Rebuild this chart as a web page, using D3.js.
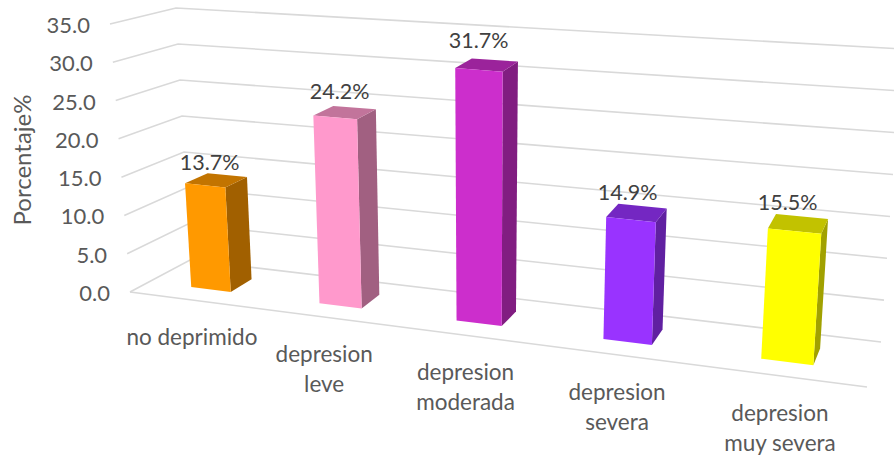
<!DOCTYPE html>
<html>
<head>
<meta charset="utf-8">
<script src="https://cdn.jsdelivr.net/npm/d3@7"></script>
<style>
  html, body { margin: 0; padding: 0; background: #fff; }
  svg { display: block; }
  text { font-family: Lato, "Open Sans", sans-serif; }
</style>
</head>
<body>
<div id="chart"></div>
<script>
var categories = ["no deprimido", "depresion leve", "depresion moderada", "depresion severa", "depresion muy severa"];
var percent_values = [13.7, 24.2, 31.7, 14.9, 15.5];
var bar_colors = ["#FF9900", "#FF99CC", "#CC2ECC", "#9933FF", "#FFFF00"];
var tick_values = [0, 5, 10, 15, 20, 25, 30, 35];
var category_lines = [["no deprimido"], ["depresion", "leve"], ["depresion", "moderada"], ["depresion", "severa"], ["depresion", "muy severa"]];

var width = 894, height = 456;

// corners of the chart box on screen: front/back, left/right, floor/top
var box = {
    flb: [130, 292], frb: [867, 387], blb: [190, 260], brb: [881, 342],
    flt: [110, 24],  frt: [888, 84],  blt: [176, 8],   brt: [902, 49]
};
var persp = 1.19;       // how much the far left of the box is squeezed
var bar_depth = [0.32, 0.70];
var label_lift = 1.05;  // value labels float a little more on taller bars

var x_scale = d3.scaleBand().domain(categories).range([0, 1]).paddingInner(0.685).paddingOuter(0.3425);
var y_scale = d3.scaleLinear().domain([0, 35]).range([0, 1]);

function mix(a, b, t) {
    return [a[0] + (b[0] - a[0]) * t, a[1] + (b[1] - a[1]) * t];
}

// u along the front, v up, w into the chart, all 0..1
function project(u, v, w) {
    var f = u / (u + persp * (1 - u));
    var bottom = mix(mix(box.flb, box.frb, f), mix(box.blb, box.brb, f), w);
    var top = mix(mix(box.flt, box.frt, f), mix(box.blt, box.brt, f), w);
    return mix(bottom, top, v);
}

function shade(color, k) {
    var c = d3.rgb(color);
    return d3.rgb(c.r * k, c.g * k, c.b * k).formatHex();
}

var line = d3.line();
var svg = d3.select("#chart").append("svg").attr("width", width).attr("height", height);

// walls: each gridline runs along the left wall, then along the back wall
svg.selectAll(".grid")
    .data(tick_values)
    .enter()
    .append("path")
    .attr("class", "grid")
    .attr("fill", "none")
    .attr("stroke", "#d9d9d9")
    .attr("stroke-width", 1.6)
    .attr("d", (d) => line([project(0, y_scale(d), 0), project(0, y_scale(d), 1), project(1, y_scale(d), 1)]));

svg.append("path")
    .attr("fill", "none")
    .attr("stroke", "#d9d9d9")
    .attr("stroke-width", 1.6)
    .attr("d", line([project(0, 0, 0), project(1, 0, 0)]));

svg.selectAll(".tick-label")
    .data(tick_values)
    .enter()
    .append("text")
    .attr("class", "tick-label")
    .attr("x", (d) => project(0, y_scale(d), 0)[0] - 20)
    .attr("y", (d) => project(0, y_scale(d), 0)[1] + 9)
    .attr("text-anchor", "end")
    .attr("font-size", 22)
    .attr("fill", "#595959")
    .text((d) => d.toFixed(1));

svg.append("text")
    .attr("transform", "translate(31,160) rotate(-90)")
    .attr("text-anchor", "middle")
    .attr("font-size", 24)
    .attr("fill", "#595959")
    .text("Porcentaje%");

// one group per bar, faces stacked side, top, front
var bars = svg.selectAll(".bar")
    .data(categories)
    .enter()
    .append("g")
    .attr("class", "bar");

function barCorners(name, i) {
    var u0 = x_scale(name), u1 = u0 + x_scale.bandwidth(), v = y_scale(percent_values[i]);
    var w0 = bar_depth[0], w1 = bar_depth[1];
    return {
        front: [project(u0, 0, w0), project(u1, 0, w0), project(u1, v, w0), project(u0, v, w0)],
        side: [project(u1, 0, w0), project(u1, 0, w1), project(u1, v, w1), project(u1, v, w0)],
        top: [project(u0, v, w0), project(u1, v, w0), project(u1, v, w1), project(u0, v, w1)]
    };
}

bars.append("path")
    .attr("fill", (d, i) => shade(bar_colors[i], 0.63))
    .attr("d", (d, i) => line(barCorners(d, i).side) + "Z");
bars.append("path")
    .attr("fill", (d, i) => shade(bar_colors[i], 0.76))
    .attr("d", (d, i) => line(barCorners(d, i).top) + "Z");
bars.append("path")
    .attr("fill", (d, i) => bar_colors[i])
    .attr("d", (d, i) => line(barCorners(d, i).front) + "Z");

// value labels sit just above the top face
svg.selectAll(".value-label")
    .data(categories)
    .enter()
    .append("text")
    .attr("class", "value-label")
    .attr("x", (d) => project(x_scale(d) + x_scale.bandwidth() / 2, 0, 0.27)[0] + 1.5)
    .attr("y", (d, i) => project(x_scale(d), y_scale(percent_values[i]) * label_lift, bar_depth[1])[1] + 2)
    .attr("text-anchor", "middle")
    .attr("font-size", 21.5)
    .attr("fill", "#404040")
    .text((d, i) => percent_values[i].toFixed(1) + "%");

var cat_labels = svg.selectAll(".cat-label")
    .data(categories)
    .enter()
    .append("text")
    .attr("class", "cat-label")
    .attr("text-anchor", "middle")
    .attr("font-size", 22.5)
    .attr("fill", "#595959");

cat_labels.selectAll("tspan")
    .data((d, i) => category_lines[i].map((t, n) => ({"name": d, "text": t, "n": n})))
    .enter()
    .append("tspan")
    .attr("x", (d) => project(x_scale(d.name) + x_scale.bandwidth() / 2, 0, 0)[0] - 1)
    .attr("y", (d) => project(x_scale(d.name) + x_scale.bandwidth() / 2, 0, 0)[1] + 45 + d.n * 30)
    .text((d) => d.text);
</script>
</body>
</html>
